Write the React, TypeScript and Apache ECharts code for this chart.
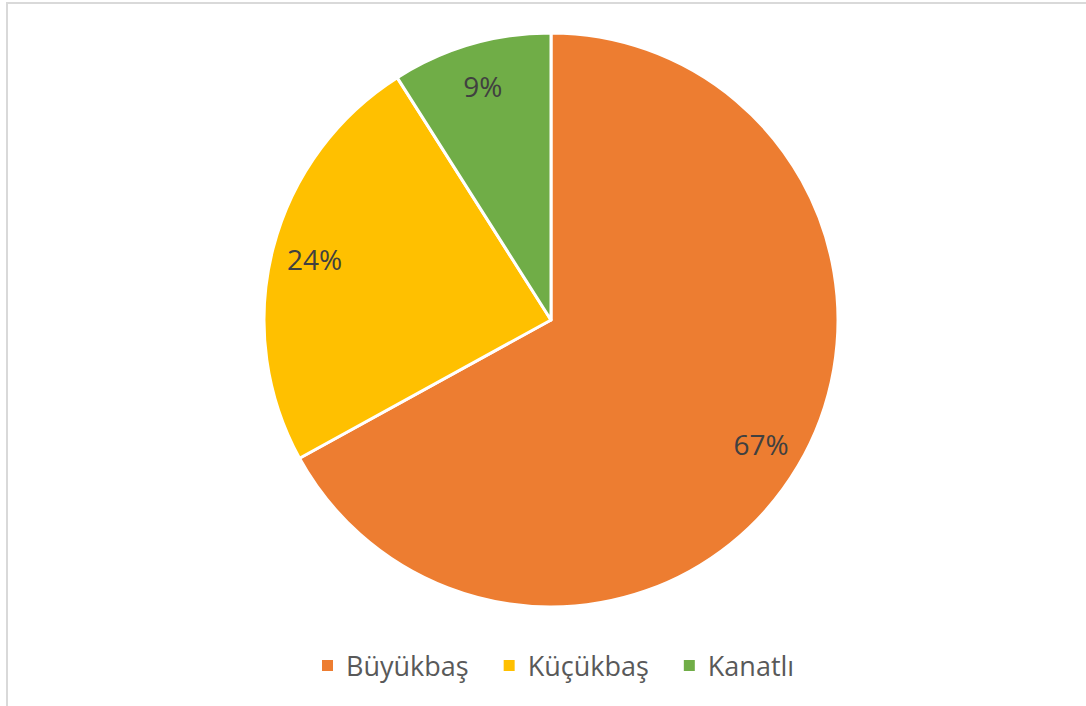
import React, { useEffect, useRef } from "react";
import * as echarts from "echarts";

const categories = ["Büyükbaş", "Küçükbaş", "Kanatlı"];
const values = [67, 24, 9];
const colors = ["#ED7D31", "#FFC000", "#70AD47"];

export default function App() {
  const ref = useRef<HTMLDivElement>(null);
  useEffect(() => {
    if (!ref.current) return;
    const chart = echarts.init(ref.current, null, { renderer: "svg" });
    const data = categories.map((name, i) => ({ name, value: values[i] }));
    chart.setOption({
      animation: false,
      backgroundColor: "#ffffff",
      color: colors,
      graphic: [
        {
          type: "rect",
          shape: { x: 7, y: 3, width: 1100, height: 720 },
          style: { fill: "none", stroke: "#d9d9d9", lineWidth: 2 },
          silent: true,
        },
      ],
      legend: {
        data: categories,
        top: 647,
        left: 315,
        icon: "rect",
        itemWidth: 13,
        itemHeight: 13,
        itemGap: 33,
        textStyle: {
          fontFamily: "Open Sans",
          fontSize: 27,
          color: "#595959",
          padding: [0, 0, 0, 7],
        },
      },
      series: [
        {
          type: "pie",
          center: [551, 320],
          radius: [0, 287],
          startAngle: 90,
          clockwise: true,
          data,
          label: { show: false },
          labelLine: { show: false },
          itemStyle: { borderColor: "#ffffff", borderWidth: 3 },
          emphasis: { disabled: true },
        },
        {
          type: "pie",
          center: [551, 320],
          radius: [195, 287],
          startAngle: 90,
          clockwise: true,
          data,
          silent: true,
          legendHoverLink: false,
          itemStyle: { color: "rgba(0,0,0,0)", borderWidth: 0 },
          label: {
            show: true,
            position: "inside",
            formatter: "{d}%",
            fontFamily: "Open Sans",
            fontSize: 28,
            color: "#404040",
          },
          labelLine: { show: false },
          emphasis: { disabled: true },
        },
      ],
    });
    return () => chart.dispose();
  }, []);
  return (
    <div
      ref={ref}
      style={{ position: "absolute", left: 0, top: 0, width: 1086, height: 706 }}
    />
  );
}
